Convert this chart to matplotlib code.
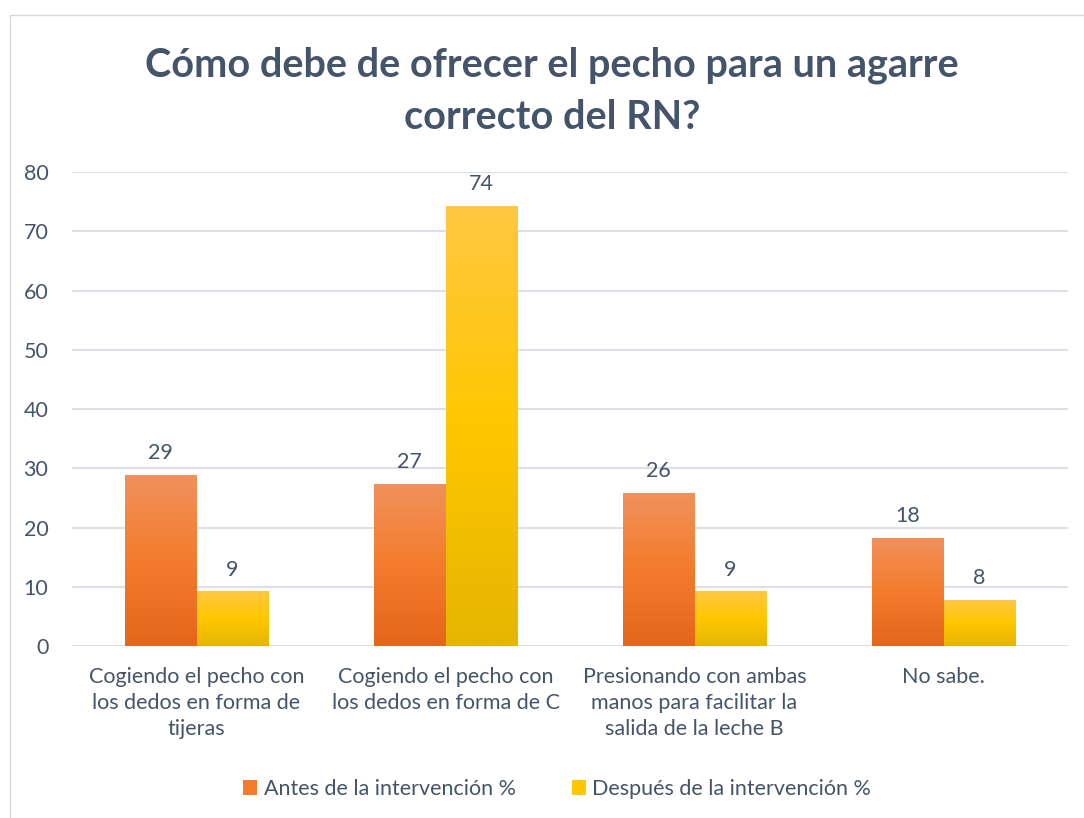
import matplotlib
matplotlib.use('Agg')
import matplotlib.pyplot as plt
import numpy as np
from matplotlib.colors import LinearSegmentedColormap
from matplotlib.patches import Patch, Rectangle

# ---- data ----
categories = [
    "Cogiendo el pecho con\nlos dedos en forma de\ntijeras",
    "Cogiendo el pecho con\nlos dedos en forma de C",
    "Presionando con ambas\nmanos para facilitar la\nsalida de la leche B",
    "No sabe.",
]
antes = [28.8, 27.4, 25.9, 18.3]
despues = [9.2, 74.3, 9.2, 7.7]
series_names = ["Antes de la intervención %", "Después de la intervención %"]
yticks = [0, 10, 20, 30, 40, 50, 60, 70, 80]
title = "Cómo debe de ofrecer el pecho para un agarre\ncorrecto del RN?"

# ---- style ----
plt.rcParams['font.family'] = ['Lato', 'DejaVu Sans']
TXT = '#44546A'
FS = 15.5
orange_stops = ['#E4661B', '#F47C2C', '#F0915C']   # bottom, mid, top
yellow_stops = ['#E5B500', '#FFC700', '#FFC842']

W, H = 1084, 818
fig = plt.figure(figsize=(W / 100, H / 100), dpi=100)
fig.patch.set_facecolor('white')

# chart frame
fig.add_artist(Rectangle((10 / W, -0.1), 1.2, 1 - 15 / H + 0.1,
                         transform=fig.transFigure, fill=False,
                         edgecolor='#D9D9D9', lw=1.0))

ax = fig.add_axes([72 / W, 1 - 646 / H, (1068 - 72) / W, (646 - 172) / H])
x = np.arange(len(categories))
bw = 0.289

b1 = ax.bar(x - bw / 2, antes, bw, color=orange_stops[1], zorder=2)
b2 = ax.bar(x + bw / 2, despues, bw, color=yellow_stops[1], zorder=2)

grad = np.linspace(0, 1, 256).reshape(-1, 1)
for bars, stops in ((b1, orange_stops), (b2, yellow_stops)):
    cmap = LinearSegmentedColormap.from_list('g', stops)
    for bar in bars:
        bx, by = bar.get_x(), bar.get_y()
        bwid, bh = bar.get_width(), bar.get_height()
        im = ax.imshow(grad, cmap=cmap, origin='lower', aspect='auto',
                       extent=[bx, bx + bwid, by, by + bh], zorder=3,
                       interpolation='bilinear')
        im.set_clip_path(bar)
    for bar in bars:
        h = bar.get_height()
        ax.annotate(f"{h:.0f}", (bar.get_x() + bar.get_width() / 2, h),
                    xytext=(0, 11.5), textcoords='offset points',
                    ha='center', va='baseline', fontsize=FS, color=TXT)

ax.set_xlim(-0.5, len(categories) - 0.5)
ax.set_ylim(0, 80)
ax.set_yticks(yticks)
ax.set_xticks(x)
ax.set_xticklabels(categories, fontsize=FS, color=TXT, linespacing=1.38)
ax.tick_params(axis='y', length=0, pad=17, labelsize=FS, labelcolor=TXT)
ax.tick_params(axis='x', length=0, pad=15)
for s in ax.spines.values():
    s.set_visible(False)
ax.grid(axis='y', color='#DDE1E7', lw=1.5, zorder=0)
ax.set_axisbelow(True)

fig.text(552 / W, 1 - 91 / H, title, ha='center', va='center',
         fontsize=28.5, fontweight='bold', color=TXT, linespacing=1.5)

handles = [Patch(facecolor=orange_stops[1]), Patch(facecolor=yellow_stops[1])]
fig.legend(handles, series_names, loc='center', bbox_to_anchor=(557 / W, 1 - 789 / H),
           ncol=2, frameon=False, fontsize=FS, labelcolor=TXT,
           handlelength=0.65, handleheight=0.65, handletextpad=0.3,
           columnspacing=2.6)

fig.savefig('out.png', dpi=100, facecolor='white')
